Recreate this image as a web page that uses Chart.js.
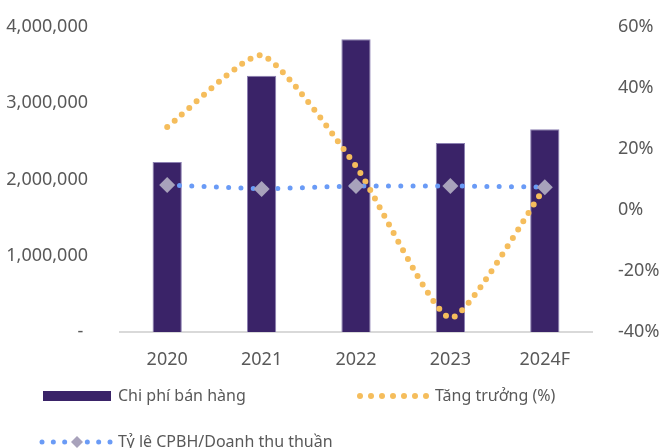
<!DOCTYPE html>
<html>
<head>
<meta charset="utf-8">
<script src="https://cdn.jsdelivr.net/npm/chart.js@4"></script>
<style>
  html, body { margin: 0; padding: 0; background: #fff; }
  #wrap { width: 660px; height: 448px; position: relative; }
</style>
</head>
<body>
<div id="wrap"><canvas id="chart"></canvas></div>
<script>
const years = ['2020', '2021', '2022', '2023', '2024F'];
const chiPhiBanHang = [2230000, 3360000, 3840000, 2480000, 2660000];
const tangTruong = [27.2, 50.7, 14.3, -35.4, 7.3];
const tyLeCPBH = [8.2, 6.9, 7.9, 7.9, 7.5];

const textColor = '#595959';
const barColor = '#3A2368';
const orange = '#F5BD5C';
const blue = '#6A9BF6';
const diamond = '#A8A2BB';
const fontFamily = '"Noto Sans", sans-serif';

function dottedRow(ctx, x0, x1, y, n, r, color) {
  ctx.fillStyle = color;
  const step = (x1 - x0) / (n - 1);
  for (let i = 0; i < n; i++) {
    ctx.beginPath();
    ctx.arc(x0 + i * step, y, r, 0, Math.PI * 2);
    ctx.fill();
  }
}

// legend drawn by hand so the swatches look like the original
const legendPlugin = {
  id: 'customLegend',
  afterDraw(chart) {
    const ctx = chart.ctx;
    ctx.save();
    ctx.font = '16px ' + fontFamily;
    ctx.textBaseline = 'middle';

    // row 1
    ctx.fillStyle = barColor;
    ctx.fillRect(43, 391, 68, 10);
    ctx.fillStyle = textColor;
    ctx.fillText('Chi phí bán hàng', 118, 396);

    dottedRow(ctx, 360, 426, 396, 7, 3, orange);
    ctx.fillStyle = textColor;
    ctx.fillText('Tăng trưởng (%)', 435, 396);

    // row 2
    dottedRow(ctx, 42, 110, 442, 7, 2.5, blue);
    ctx.fillStyle = '#fff';
    ctx.fillRect(70, 434, 14, 16);
    ctx.fillStyle = diamond;
    ctx.beginPath();
    ctx.moveTo(77, 436);
    ctx.lineTo(83, 442);
    ctx.lineTo(77, 448);
    ctx.lineTo(71, 442);
    ctx.closePath();
    ctx.fill();
    ctx.fillStyle = textColor;
    ctx.fillText('Tỷ lệ CPBH/Doanh thu thuần', 118, 442);
    ctx.restore();
  }
};

// y axes: fixed width, no extra padding above/below the plot
function fixY(width) {
  return (scale) => {
    scale.width = width;
    scale.paddingTop = 0;
    scale.paddingBottom = 0;
  };
}

new Chart(document.getElementById('chart'), {
  type: 'bar',
  data: {
    labels: years,
    datasets: [
      {
        type: 'line',
        label: 'Tỷ lệ CPBH/Doanh thu thuần',
        data: tyLeCPBH,
        yAxisID: 'y1',
        borderColor: blue,
        borderWidth: 5,
        borderDash: [0, 12.3],
        borderCapStyle: 'round',
        tension: 0,
        pointStyle: 'rectRot',
        pointRadius: 8,
        pointBackgroundColor: diamond,
        pointBorderWidth: 0,
        order: 1
      },
      {
        type: 'line',
        label: 'Tăng trưởng (%)',
        data: tangTruong,
        yAxisID: 'y1',
        borderColor: orange,
        borderWidth: 6,
        borderDash: [0, 9.8],
        borderCapStyle: 'round',
        tension: 0.18,
        pointRadius: 0,
        order: 2
      },
      {
        label: 'Chi phí bán hàng',
        data: chiPhiBanHang,
        yAxisID: 'y',
        backgroundColor: barColor,
        borderColor: '#8C80B2',
        borderWidth: 1,
        barPercentage: 0.62,
        categoryPercentage: 0.5,
        order: 3
      }
    ]
  },
  options: {
    responsive: true,
    maintainAspectRatio: false,
    animation: false,
    layout: {
      padding: { top: 27, left: 0, right: 0, bottom: 0 }
    },
    plugins: {
      legend: { display: false },
      tooltip: { enabled: false }
    },
    scales: {
      x: {
        grid: { display: false },
        border: { display: true, color: '#D9D9D9', width: 2 },
        ticks: {
          color: textColor,
          font: { size: 18, family: fontFamily },
          padding: 9
        },
        afterFit(scale) { scale.height = 116; }
      },
      y: {
        position: 'left',
        min: 0,
        max: 4000000,
        grid: { display: false },
        border: { display: false },
        ticks: {
          stepSize: 1000000,
          color: textColor,
          font: { size: 18, family: fontFamily },
          padding: 24,
          callback: (v) => v === 0 ? '- ' : v.toLocaleString('en-US')
        },
        afterFit: fixY(120)
      },
      y1: {
        position: 'right',
        min: -40,
        max: 60,
        grid: { display: false },
        border: { display: false },
        ticks: {
          stepSize: 20,
          color: textColor,
          font: { size: 18, family: fontFamily },
          padding: 18,
          callback: (v) => v + '%'
        },
        afterFit: fixY(68)
      }
    }
  },
  plugins: [legendPlugin]
});
</script>
</body>
</html>
